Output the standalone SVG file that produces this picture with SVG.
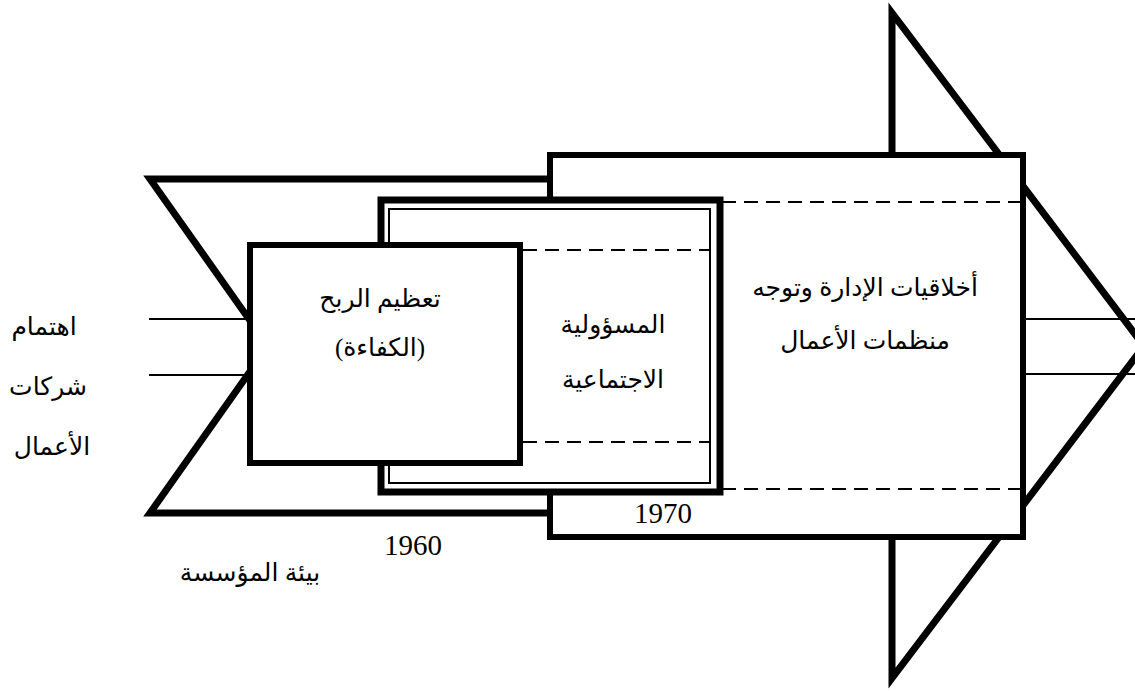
<svg xmlns="http://www.w3.org/2000/svg" width="1135" height="691" viewBox="0 0 1135 691">
<style>
.thick{fill:#fff;stroke:#000;stroke-width:6;stroke-linejoin:miter}
.thin{fill:none;stroke:#000;stroke-width:2}
.dash{fill:none;stroke:#000;stroke-width:2;stroke-dasharray:14 8}
.ar{font-family:"Liberation Serif","DejaVu Sans",serif;font-size:25px;fill:#000;text-anchor:middle}
.num{font-family:"Liberation Serif",serif;font-size:29px;fill:#000;text-anchor:middle}
</style>
<rect width="1135" height="691" fill="#fff"/>
<g id="arrow">
<polygon class="thick" style="stroke-width:7" points="150,179 892,179 892,13 1144,346 892,678 892,513 150,513 268,346"/>
</g>
<g id="connectors">
<line class="thin" x1="149" y1="319" x2="250" y2="319"/>
<line class="thin" x1="149" y1="375" x2="250" y2="375"/>
<line class="thin" x1="1023" y1="319" x2="1135" y2="319"/>
<line class="thin" x1="1023" y1="374" x2="1135" y2="374"/>
</g>
<g id="ethics">
<rect class="thick" x="550" y="155" width="473" height="382"/>
<line class="dash" x1="722" y1="202" x2="1020" y2="202"/>
<line class="dash" x1="722" y1="489" x2="1020" y2="489"/>
<text class="ar" x="865" y="296">أخلاقيات الإدارة وتوجه</text>
<text class="ar" x="865" y="349">منظمات الأعمال</text>
<text class="num" x="663" y="523">1970</text>
</g>
<g id="responsibility">
<rect class="thick" style="stroke-width:7" x="381" y="200" width="339" height="292"/>
<rect class="thin" x="389" y="209" width="321" height="274"/>
<line class="dash" x1="523" y1="250" x2="710" y2="250"/>
<line class="dash" x1="523" y1="442" x2="710" y2="442"/>
<text class="ar" x="613" y="333">المسؤولية</text>
<text class="ar" x="613" y="388">الاجتماعية</text>
</g>
<g id="profit">
<rect class="thick" x="250" y="245" width="270" height="218"/>
<text class="ar" x="380" y="307">تعظيم الربح</text>
<text class="ar" x="380" y="356">(الكفاءة)</text>
</g>
<g id="labels">
<text class="ar" x="44" y="335">اهتمام</text>
<text class="ar" x="48" y="395">شركات</text>
<text class="ar" x="52" y="455">الأعمال</text>
<text class="num" x="413" y="555">1960</text>
<text class="ar" x="250" y="581">بيئة المؤسسة</text>
</g>
</svg>
